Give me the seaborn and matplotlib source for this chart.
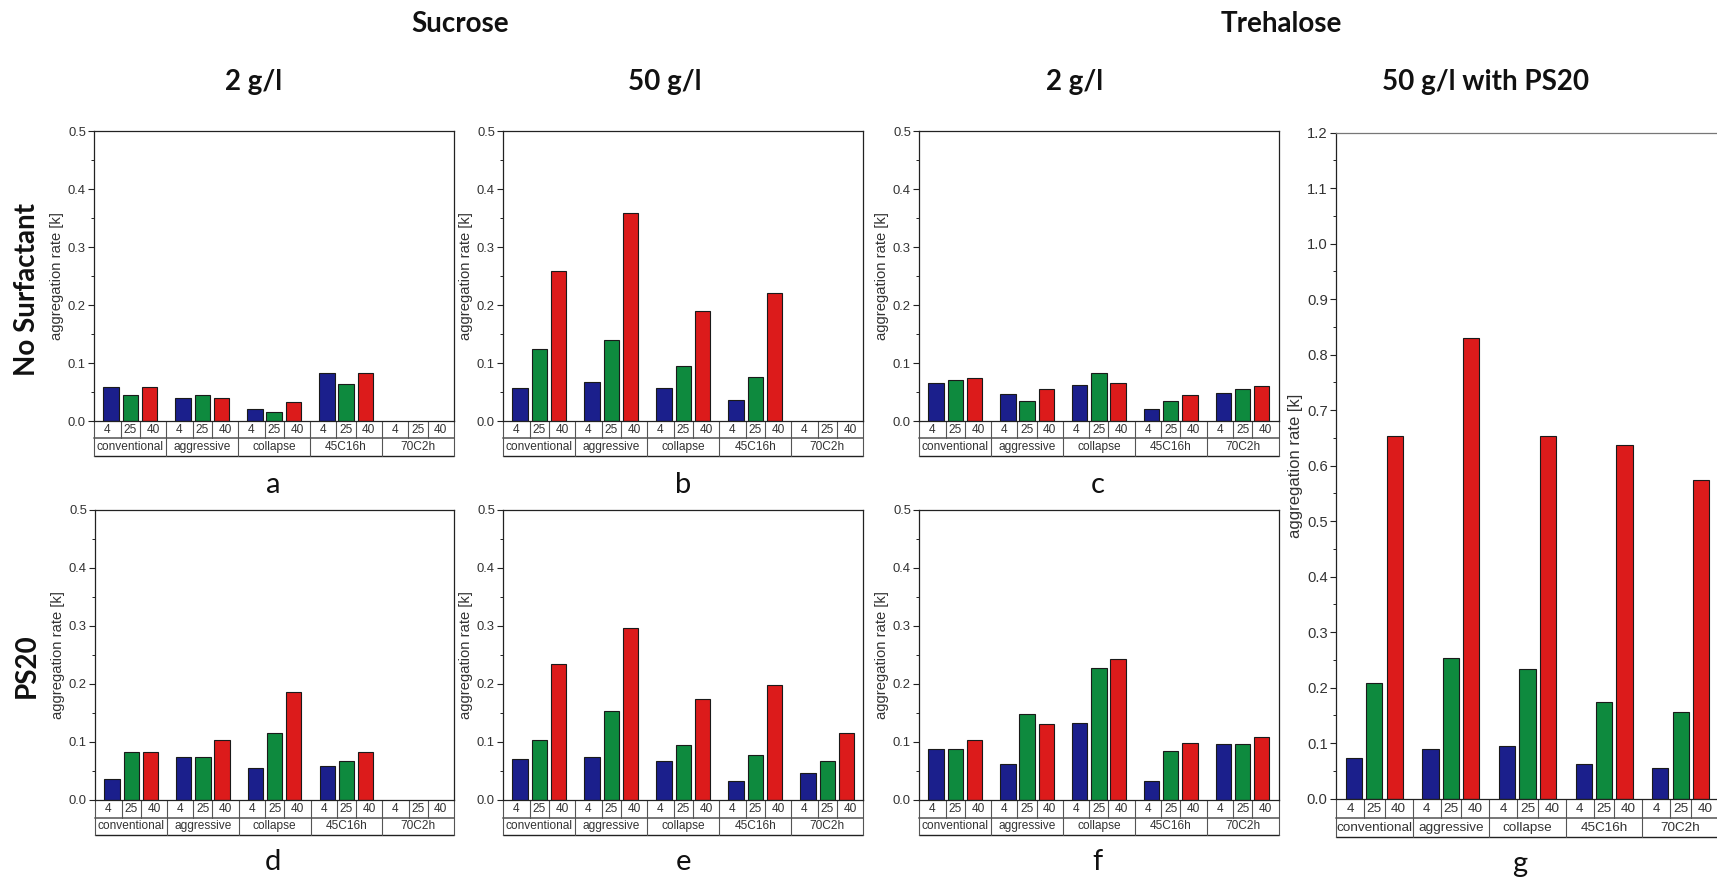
import numpy as np
import pandas as pd
import matplotlib
matplotlib.use("Agg")
import matplotlib.pyplot as plt
from matplotlib.ticker import MultipleLocator, FormatStrFormatter
from matplotlib.transforms import blended_transform_factory
import seaborn as sns

# ---- categories -----------------------------------------------------------
cycles = ["conventional", "aggressive", "collapse", "45C16h", "70C2h"]
temps = ["4", "25", "40"]
colors = ["#1b1f8c", "#0e8a3e", "#dc1b1b"]

# ---- aggregation rates per cycle (None = not measured) --------------------
# a: sucrose 2 g/l, no surfactant
a_t4 = [0.059, 0.039, 0.021, 0.082, None]
a_t25 = [0.044, 0.044, 0.016, 0.063, None]
a_t40 = [0.059, 0.039, 0.032, 0.082, None]
# b: sucrose 50 g/l, no surfactant
b_t4 = [0.057, 0.068, 0.057, 0.036, None]
b_t25 = [0.124, 0.139, 0.094, 0.076, None]
b_t40 = [0.258, 0.359, 0.190, 0.220, None]
# c: trehalose 2 g/l, no surfactant
c_t4 = [0.065, 0.046, 0.062, 0.021, 0.048]
c_t25 = [0.071, 0.035, 0.082, 0.035, 0.056]
c_t40 = [0.074, 0.056, 0.065, 0.045, 0.061]
# d: sucrose 2 g/l, PS20
d_t4 = [0.036, 0.074, 0.055, 0.058, None]
d_t25 = [0.082, 0.074, 0.116, 0.067, None]
d_t40 = [0.083, 0.103, 0.187, 0.083, None]
# e: sucrose 50 g/l, PS20
e_t4 = [0.070, 0.074, 0.067, 0.032, 0.047]
e_t25 = [0.103, 0.153, 0.095, 0.077, 0.067]
e_t40 = [0.235, 0.297, 0.175, 0.199, 0.115]
# f: trehalose 2 g/l, PS20
f_t4 = [0.088, 0.062, 0.133, 0.032, 0.097]
f_t25 = [0.088, 0.148, 0.227, 0.084, 0.097]
f_t40 = [0.103, 0.131, 0.243, 0.098, 0.108]
# g: trehalose 50 g/l with PS20
g_t4 = [0.074, 0.089, 0.095, 0.063, 0.055]
g_t25 = [0.208, 0.254, 0.233, 0.175, 0.157]
g_t40 = [0.654, 0.830, 0.654, 0.638, 0.575]

col_headers = ["2 g/l", "50 g/l", "2 g/l", "50 g/l with PS20"]
sugar_headers = ["Sucrose", "Trehalose"]
row_headers = ["No Surfactant", "PS20"]

sns.set_style("white")
plt.rcParams["font.family"] = ["Liberation Sans", "DejaVu Sans"]

W, H = 1717, 881
fig = plt.figure(figsize=(W / 100, H / 100), dpi=100)
fig.patch.set_facecolor("white")


def box(l, t, r, b):
    return [l / W, 1 - b / H, (r - l) / W, (b - t) / H]


def frame(lists):
    rows = []
    for t, vals in zip(temps, lists):
        for c, v in zip(cycles, vals):
            if v is not None:
                rows.append({"cycle": c, "temp": t, "rate": v})
    return pd.DataFrame(rows)


TXT = "#333333"
LINE = "#222222"


def draw_panel(rect, lists, ymax, row1, row2, scale, ylab_off, top_color):
    ax = fig.add_axes(rect)
    df = frame(lists)
    sns.barplot(data=df, x="cycle", y="rate", hue="temp", order=cycles,
                hue_order=temps, palette=colors, saturation=1, width=0.8,
                gap=0.2, errorbar=None, edgecolor="#1a1a1a", linewidth=0.8,
                legend=False, ax=ax)
    ax.set_xlim(-0.5, len(cycles) - 0.5)
    ax.set_ylim(0, ymax)
    ax.set_xticks([])
    ax.set_xlabel("")
    ax.yaxis.set_major_locator(MultipleLocator(0.1))
    ax.yaxis.set_minor_locator(MultipleLocator(0.05))
    ax.yaxis.set_major_formatter(FormatStrFormatter("%.1f"))
    ax.tick_params(axis="y", which="major", direction="out", length=4,
                   width=0.8, color=LINE, labelsize=9.4 * scale,
                   labelcolor=TXT, pad=2, left=True)
    ax.tick_params(axis="y", which="minor", direction="out", length=2,
                   width=0.7, color=LINE, left=True)
    for s in ax.spines.values():
        s.set_color(LINE)
        s.set_linewidth(0.9)
        s.set_visible(True)
    ax.spines["top"].set_color(top_color)
    ax.set_ylabel("aggregation rate [k]", fontsize=10.6 * scale, color=TXT)
    ax_w = rect[2] * W
    ax_h = rect[3] * H
    ax.yaxis.set_label_coords(-ylab_off / ax_w, 0.5)

    # category table under the zero line
    y1 = -row1 / ax_h
    y2 = -(row1 + row2) / ax_h
    tr = blended_transform_factory(ax.transData, ax.transAxes)
    n = len(cycles)
    kw = dict(transform=tr, clip_on=False)
    ax.plot([-0.5, n - 0.5], [y1, y1], color="#777777", lw=1.4, **kw)
    ax.plot([-0.5, n - 0.5], [y2, y2], color=LINE, lw=1.0, **kw)
    for i in range(n + 1):
        ax.plot([i - 0.5, i - 0.5], [0, y2], color="#555555", lw=0.8, **kw)
    slot = 0.8 / len(temps)
    cell = (0.5 + slot / 2) / 2
    for i, c in enumerate(cycles):
        for d in (-0.5, 0.5):
            xd = i + d * slot
            ax.plot([xd, xd], [0, y1], color="#555555", lw=0.8, **kw)
        for j, t in enumerate(temps):
            xc = i + (j - 1) * cell
            ax.text(xc, y1 / 2, t, ha="center", va="center",
                    fontsize=8.6 * scale, color=TXT, transform=tr)
        ax.text(i, (y1 + y2) / 2, c, ha="center", va="center",
                fontsize=8.6 * scale, color=TXT, transform=tr)
    return ax


panels = [
    (box(94.3, 131, 454, 421), [a_t4, a_t25, a_t40], 0.5, 17.3, 17.7, 1.0, "a", (273, 485)),
    (box(503.3, 131, 863.3, 421), [b_t4, b_t25, b_t40], 0.5, 17.3, 17.7, 1.0, "b", (683, 485)),
    (box(919.3, 131, 1278.5, 421), [c_t4, c_t25, c_t40], 0.5, 17.3, 17.7, 1.0, "c", (1098, 485)),
    (box(95.3, 510, 454, 800), [d_t4, d_t25, d_t40], 0.5, 17.5, 17.0, 1.0, "d", (273, 862)),
    (box(503.3, 510, 863.3, 800), [e_t4, e_t25, e_t40], 0.5, 17.5, 17.0, 1.0, "e", (683, 862)),
    (box(919.3, 510, 1278.5, 800), [f_t4, f_t25, f_t40], 0.5, 17.5, 17.0, 1.0, "f", (1097, 862)),
    (box(1336, 132.7, 1719, 798.7), [g_t4, g_t25, g_t40], 1.2, 19.7, 18.3, 1.13, "g", (1520, 864)),
]

for rect, lists, ymax, r1, r2, sc, letter, (lx, ly) in panels:
    wide = sc != 1.0
    draw_panel(rect, lists, ymax, r1, r2, sc, 33 if wide else 30,
               "#777777" if wide else LINE)
    fig.text(lx / W, 1 - ly / H, letter, ha="center", va="center",
             fontsize=21, family=["Lato", "DejaVu Sans"], color="#111111")

head = dict(ha="center", va="center", fontsize=20, fontweight="bold",
            family=["Lato", "DejaVu Sans"], color="#111111")
for txt, x in zip(sugar_headers, (460, 1281)):
    fig.text(x / W, 1 - 24 / H, txt, **head)
for txt, x in zip(col_headers, (254, 665, 1075, 1486)):
    fig.text(x / W, 1 - 82 / H, txt, **head)
for txt, y in zip(row_headers, (290, 666)):
    fig.text(27 / W, 1 - y / H, txt, rotation=90, **head)

fig.savefig("out.png", dpi=100, facecolor="white")
